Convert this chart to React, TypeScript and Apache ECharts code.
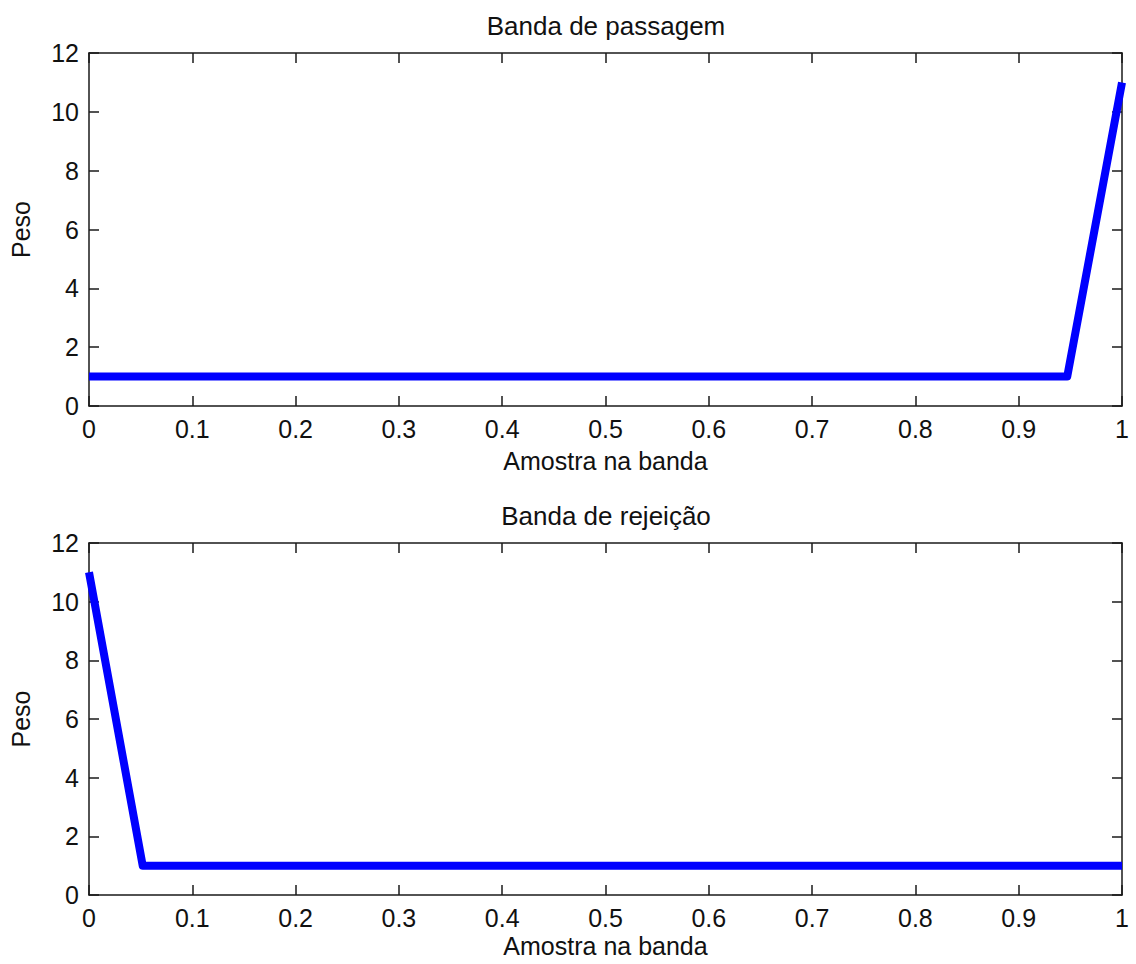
import React, { useEffect, useRef } from "react";
import * as echarts from "echarts";

// Weight profile over the passband (rises in the last few samples)
const passX = [0, 0.947, 1];
const passY = [1, 1, 11];

// Weight profile over the stopband (falls in the first few samples)
const stopX = [0, 0.052, 1];
const stopY = [11, 1, 1];

const titles = ["Banda de passagem", "Banda de rejeição"];
const xName = "Amostra na banda";
const yName = "Peso";

const FONT = "Liberation Sans";
const FS = 25;
const AXIS_COLOR = "#1a1a1a";
const TEXT_COLOR = "#111";

const grids = [
  { left: 89, top: 53, width: 1033, height: 353 },
  { left: 89, top: 543, width: 1033, height: 352 },
];
// distance of each x-axis title below its plot
const xNameGaps = [43, 39];

function pairs(xs: number[], ys: number[]) {
  return xs.map((x, i) => [x, ys[i]]);
}

export default function App() {
  const ref = useRef<HTMLDivElement>(null);

  useEffect(() => {
    if (!ref.current) return;
    const chart = echarts.init(ref.current, undefined, { renderer: "svg" });

    const axisLine = { show: true, onZero: false, lineStyle: { color: AXIS_COLOR, width: 1.5 } };
    const tickIn = { show: true, inside: true, length: 10, lineStyle: { color: AXIS_COLOR, width: 1.5 } };
    const labelStyle = { color: TEXT_COLOR, fontFamily: FONT, fontSize: FS };

    const xAxes: any[] = [];
    const yAxes: any[] = [];
    grids.forEach((_, g) => {
      xAxes.push({
        type: "value", gridIndex: g, position: "bottom", min: 0, max: 1, interval: 0.1,
        axisLine, axisTick: tickIn, splitLine: { show: false },
        axisLabel: { ...labelStyle, margin: 10 },
        name: xName, nameLocation: "middle", nameGap: xNameGaps[g],
        nameTextStyle: { ...labelStyle, fontSize: 25, lineHeight: 24 },
      });
      xAxes.push({
        type: "value", gridIndex: g, position: "top", min: 0, max: 1, interval: 0.1,
        axisLine, axisTick: tickIn, splitLine: { show: false }, axisLabel: { show: false },
      });
      yAxes.push({
        type: "value", gridIndex: g, position: "left", min: 0, max: 12, interval: 2,
        axisLine, axisTick: tickIn, splitLine: { show: false },
        axisLabel: { ...labelStyle, margin: 10 },
        name: yName, nameLocation: "middle", nameGap: 56, nameRotate: 90,
        nameTextStyle: { ...labelStyle },
      });
      yAxes.push({
        type: "value", gridIndex: g, position: "right", min: 0, max: 12, interval: 2,
        axisLine, axisTick: tickIn, splitLine: { show: false }, axisLabel: { show: false },
      });
    });

    const lineSeries = (xs: number[], ys: number[], g: number) => ({
      type: "line",
      xAxisIndex: g * 2,
      yAxisIndex: g * 2,
      data: pairs(xs, ys),
      showSymbol: false,
      clip: false,
      lineStyle: { color: "#0000ff", width: 8, join: "round", cap: "butt" },
    });

    chart.setOption({
      animation: false,
      backgroundColor: "#ffffff",
      title: titles.map((t, i) => ({
        text: t,
        left: 601,
        textAlign: "center",
        top: grids[i].top - 45,
        textStyle: { color: TEXT_COLOR, fontFamily: FONT, fontSize: 26, fontWeight: "normal" },
      })),
      grid: grids.map((g) => ({ ...g, outerBoundsMode: "none" })),
      xAxis: xAxes,
      yAxis: yAxes,
      series: [lineSeries(passX, passY, 0), lineSeries(stopX, stopY, 1)],
    });

    return () => chart.dispose();
  }, []);

  return (
    <div
      ref={ref}
      style={{ position: "fixed", left: 0, top: 0, width: 1136, height: 964, background: "#fff" }}
    />
  );
}
